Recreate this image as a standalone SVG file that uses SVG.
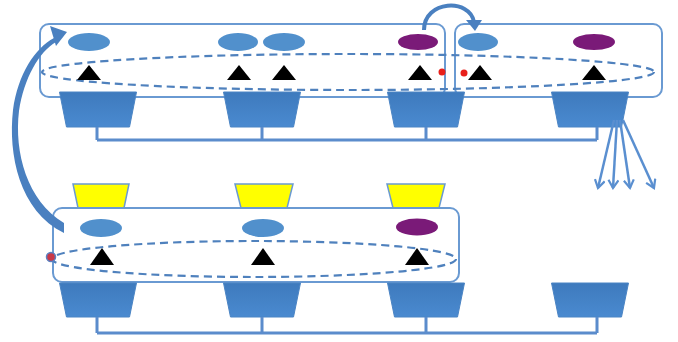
<svg xmlns="http://www.w3.org/2000/svg" width="678" height="342" viewBox="0 0 678 342">
  <style>
    .frame { fill: none; stroke: #6a9ad2; stroke-width: 2; }
    .ring { fill: none; stroke: #4f81bd; stroke-width: 2.2; stroke-dasharray: 8 5; }
    .base { fill: url(#baseGrad); stroke: #4a84c4; stroke-width: 1; }
    .cap { fill: #ffff00; stroke: #6a9ad2; stroke-width: 1.5; }
    .blue { fill: #5190cc; }
    .purple { fill: #7a1a78; }
    .tri { fill: #000; }
    .red { fill: #e8201b; }
    .wire { fill: none; stroke: #5b8ccc; stroke-width: 3; }
    .fan { fill: none; stroke: #5a8fd0; stroke-width: 2.5; marker-end: url(#chev); }
    .bend { fill: #4a80c0; }
  </style>
  <defs>
    <linearGradient id="baseGrad" x1="0" y1="0" x2="0" y2="1">
      <stop offset="0" stop-color="#3e7abd"/>
      <stop offset="1" stop-color="#4a8ad0"/>
    </linearGradient>
    <marker id="chev" viewBox="0 0 12 12" refX="10" refY="6" markerWidth="12" markerHeight="12" markerUnits="userSpaceOnUse" orient="auto">
      <path d="M2 1 L10 6 L2 11" fill="none" stroke="#5a8fd0" stroke-width="2.2"/>
    </marker>
  </defs>

  <!-- upper tier -->
  <g id="upper-left-frame"><rect class="frame" x="40" y="24" width="405" height="73" rx="9"/></g>
  <g id="upper-right-frame"><rect class="frame" x="455" y="24" width="207" height="73" rx="9"/></g>
  <g id="upper-ring"><ellipse class="ring" cx="348" cy="72" rx="306" ry="18"/></g>

  <g id="u1"><ellipse class="blue" cx="89" cy="42" rx="21" ry="9"/><polygon class="tri" points="89,65 101,80 77,80"/></g>
  <g id="u2"><ellipse class="blue" cx="238" cy="42" rx="20" ry="9"/><polygon class="tri" points="239,65 251,80 227,80"/></g>
  <g id="u3"><ellipse class="blue" cx="284" cy="42" rx="21" ry="9"/><polygon class="tri" points="284,65 296,80 272,80"/></g>
  <g id="u4"><ellipse class="purple" cx="418" cy="42" rx="20" ry="8"/><polygon class="tri" points="420,65 432,80 408,80"/></g>
  <g id="u5"><ellipse class="blue" cx="478" cy="42" rx="20" ry="9"/><polygon class="tri" points="480,65 492,80 468,80"/></g>
  <g id="u6"><ellipse class="purple" cx="594" cy="42" rx="21" ry="8"/><polygon class="tri" points="594,65 606,80 582,80"/></g>
  <g id="red-dots"><circle class="red" cx="442" cy="72" r="3.5"/><circle class="red" cx="464" cy="73" r="3.5"/></g>

  <g id="ub1"><polygon class="base" points="59.5,92 136.5,92 129.5,127 66.5,127"/></g>
  <g id="ub2"><polygon class="base" points="223.5,92 300.5,92 293.5,127 230.5,127"/></g>
  <g id="ub3"><polygon class="base" points="387.5,92 464.5,92 457.5,127 394.5,127"/></g>
  <g id="ub4"><polygon class="base" points="551.5,92 628.5,92 621.5,127 558.5,127"/></g>

  <!-- lower tier -->
  <g id="yc1"><polygon class="cap" points="73,184 129,184 124,208 78,208"/></g>
  <g id="yc2"><polygon class="cap" points="235,184 293,184 287,208 241,208"/></g>
  <g id="yc3"><polygon class="cap" points="387,184 445,184 439,208 393,208"/></g>

  <g id="lower-frame"><rect class="frame" x="53" y="208" width="406" height="74" rx="9"/></g>
  <g id="lower-ring"><ellipse class="ring" cx="254" cy="259" rx="202" ry="18"/></g>

  <g id="l1"><ellipse class="blue" cx="101" cy="228" rx="21" ry="9"/><polygon class="tri" points="102,248 114,265 90,265"/></g>
  <g id="l2"><ellipse class="blue" cx="263" cy="228" rx="21" ry="9"/><polygon class="tri" points="263,248 275,265 251,265"/></g>
  <g id="l3"><ellipse class="purple" cx="417" cy="227" rx="21" ry="8.5"/><polygon class="tri" points="417,248 429,265 405,265"/></g>
  <g id="lower-port"><circle cx="51" cy="257" r="4.5" fill="#c83848" stroke="#5b80c0" stroke-width="1.5"/></g>

  <g id="lb1"><polygon class="base" points="59.5,283 136.5,283 129.5,317 66.5,317"/></g>
  <g id="lb2"><polygon class="base" points="223.5,283 300.5,283 293.5,317 230.5,317"/></g>
  <g id="lb3"><polygon class="base" points="387.5,283 464.5,283 457.5,317 394.5,317"/></g>
  <g id="lb4"><polygon class="base" points="551.5,283 628.5,283 621.5,317 558.5,317"/></g>

  <!-- connectors -->
  <g id="connectors">
    <path class="wire" d="M97 127 V140 M262 127 V140 M426 127 V140 M597 127 V140 M97 140 H597"/>
    <path class="wire" d="M97 317 V333 M262 317 V333 M426 317 V333 M597 317 V333 M97 333 H597"/>
    <path class="fan" d="M614 120 L598 188"/>
    <path class="fan" d="M617 120 L613 188"/>
    <path class="fan" d="M620 120 L630 188"/>
    <path class="fan" d="M623 120 L654 188"/>
    <path d="M424 30 C424 0, 470 -2, 474 22" fill="none" stroke="#4a80c0" stroke-width="4"/>
    <polygon class="bend" points="466,20 482,20 475,31"/>
    <path class="bend" d="M64 233 C19 211, 8 154, 13 110 C18 74, 35 48, 54 38 L56 42 C39 52, 24 78, 19 111 C14 152, 27 201, 64 223 Z"/>
    <polygon class="bend" points="67,32 50,26 56,46"/>
  </g>
</svg>
